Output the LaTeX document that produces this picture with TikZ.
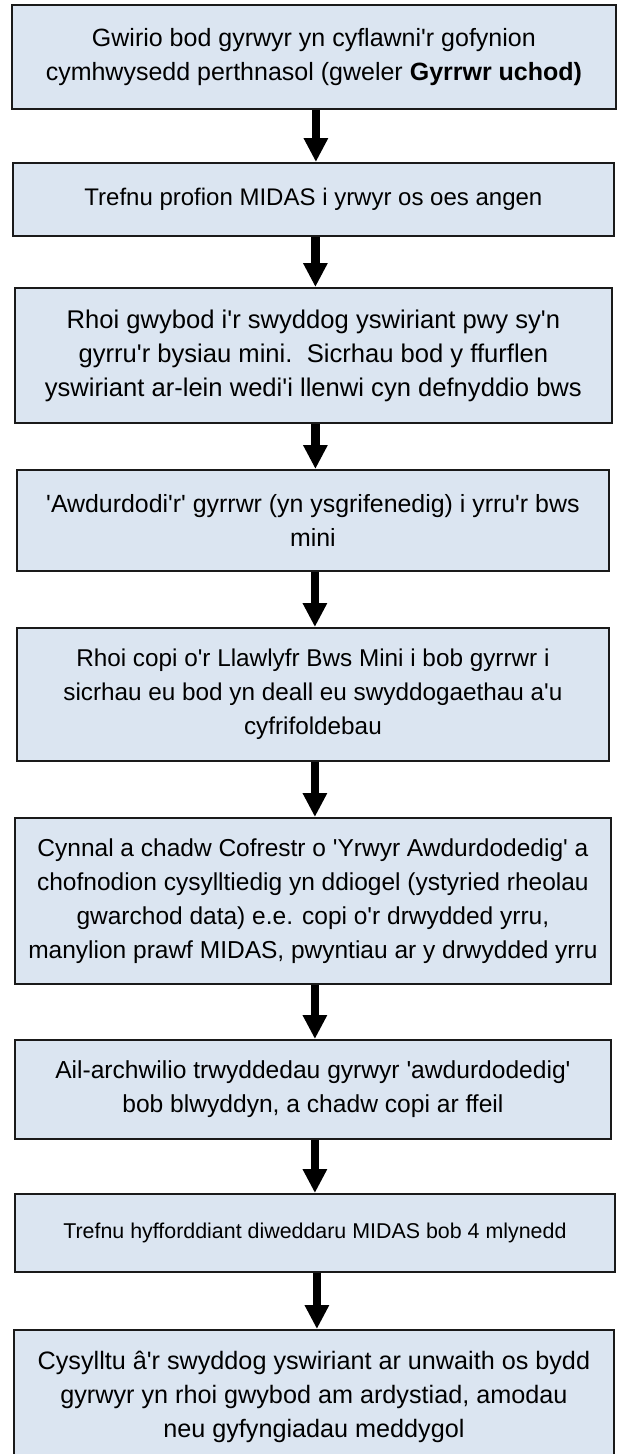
\documentclass[tikz,border=0pt]{standalone}
\usepackage{fontspec}
\setmainfont{Liberation Sans}[Ligatures=TeXOff]
\usetikzlibrary{arrows.meta}
\definecolor{boxfill}{HTML}{DBE5F1}
\definecolor{boxline}{HTML}{1A1A1A}
\newcommand\fs[1]{\fontsize{#1}{34}\selectfont}
\begin{document}
\begin{tikzpicture}[x=1pt,y=-1pt,
  stepbox/.style={draw=boxline, line width=1.8pt, fill=boxfill, anchor=north west,
    align=center, inner sep=0pt, font=\fs{24.8}},
  arr/.style={line width=8.6pt, -{Triangle[width=23pt,length=24pt]}}]
\fill[white] (0,0) rectangle (625,1454);
\useasboundingbox (0,0) rectangle (625,1454);
\node[stepbox, minimum width=604pt, minimum height=104pt, font=\fs{25}] (b1) at (11,4)
  {Gwirio bod gyrwyr yn cyflawni'r gofynion\\cymhwysedd perthnasol (gweler \textbf{Gyrrwr uchod)}};
\node[stepbox, minimum width=601pt, minimum height=73pt, font=\fs{24}] (b2) at (12,162)
  {Trefnu profion MIDAS i yrwyr os oes angen};
\node[stepbox, minimum width=597pt, minimum height=135pt, font=\fs{25.6}] (b3) at (14,287)
  {Rhoi gwybod i'r swyddog yswiriant pwy sy'n\\gyrru'r bysiau mini.\ \ Sicrhau bod y ffurflen\\yswiriant ar-lein wedi'i llenwi cyn defnyddio bws};
\node[stepbox, minimum width=592pt, minimum height=101pt, font=\fs{24.9}] (b4) at (16,469)
  {'Awdurdodi'r' gyrrwr (yn ysgrifenedig) i yrru'r bws\\mini};
\node[stepbox, minimum width=592pt, minimum height=133pt, font=\fs{24.3}] (b5) at (16,627)
  {Rhoi copi o'r Llawlyfr Bws Mini i bob gyrrwr i\\sicrhau eu bod yn deall eu swyddogaethau a'u\\cyfrifoldebau};
\node[stepbox, minimum width=596pt, minimum height=166pt, font=\fs{24.5}] (b6) at (14,817)
  {Cynnal a chadw Cofrestr o 'Yrwyr Awdurdodedig' a\\chofnodion cysylltiedig yn ddiogel (ystyried rheolau\\gwarchod data) e.e. copi o'r drwydded yrru,\\manylion prawf MIDAS, pwyntiau ar y drwydded yrru};
\node[stepbox, minimum width=596pt, minimum height=99pt, font=\fs{24.6}] (b7) at (14,1039)
  {Ail-archwilio trwyddedau gyrwyr 'awdurdodedig'\\bob blwyddyn, a chadw copi ar ffeil};
\node[stepbox, minimum width=600pt, minimum height=78pt, font=\fontsize{21.4}{28}\selectfont] (b8) at (14,1193)
  {Trefnu hyfforddiant diweddaru MIDAS bob 4 mlynedd};
\node[stepbox, minimum width=600pt, minimum height=135pt, font=\fs{25.2}] (b9) at (13,1329)
  {Cysylltu â'r swyddog yswiriant ar unwaith os bydd\\gyrwyr yn rhoi gwybod am ardystiad, amodau\\neu gyfyngiadau meddygol};
\foreach \a/\b in {b1/b2,b2/b3,b3/b4,b4/b5,b5/b6,b6/b7,b7/b8,b8/b9}
  \draw[arr] ([xshift=2pt]\a.south) -- ([xshift=2pt]\a.south |- \b.north);
\end{tikzpicture}
\end{document}
